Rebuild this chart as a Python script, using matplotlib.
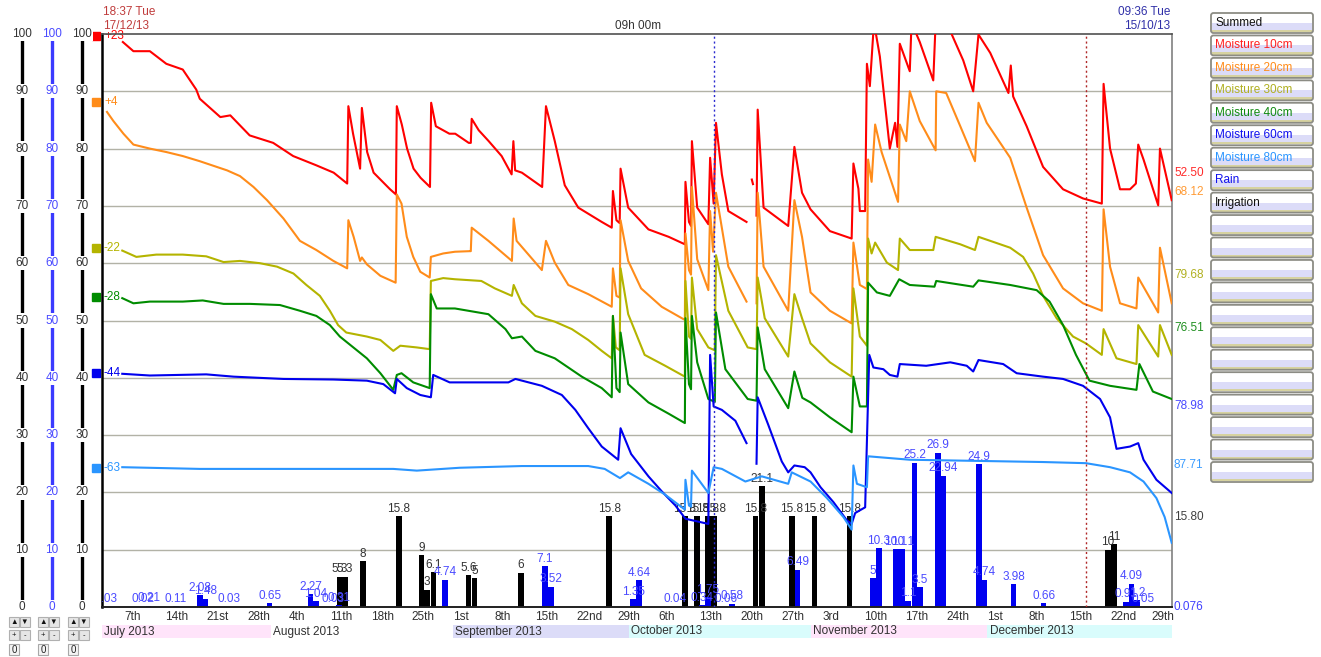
import numpy as np
import matplotlib
matplotlib.use("Agg")
import matplotlib.pyplot as plt
import matplotlib.transforms as mtransforms
from matplotlib.patches import Rectangle, FancyBboxPatch
import pandas as pd
from datetime import datetime

plt.rcParams['font.family'] = ['Liberation Sans', 'DejaVu Sans']

START = datetime(2013, 7, 1)
nan = np.nan

# probe readings as (days since 1 Jul 2013, value)
moist10 = [(5.8, 98.6), (7.6, 97.0), (10.4, 97.0), (13.2, 94.8), (16.0, 93.8), (18.3, 90.3), (18.9, 88.7),
           (22.4, 85.5), (24.1, 85.8), (27.4, 82.3), (31.4, 81.0), (34.8, 78.7), (38.7, 77.1), (41.7, 75.8),
           (44.0, 73.9), (44.2, 87.4), (45.0, 82.6), (46.2, 76.5), (46.5, 87.1), (47.4, 79.4), (48.5, 75.8),
           (51.3, 72.9), (52.3, 72.0), (52.45, 87.4), (53.3, 84.2), (54.2, 80.0), (55.3, 76.5), (56.5, 74.9),
           (58.1, 73.3), (58.3, 88.0), (59.1, 83.9), (61.4, 82.6), (62.4, 82.6), (64.7, 81.0), (65.05, 81.0),
           (65.2, 85.2), (66.4, 83.2), (68.1, 81.3), (70.3, 78.7), (72.0, 75.5), (72.3, 81.3), (72.6, 76.2),
           (73.75, 75.8), (77.2, 73.3), (77.85, 87.4), (79.35, 81.3), (81.05, 73.6), (83.35, 69.7), (87.35, 67.2),
           (89.05, 66.2), (89.25, 72.6), (89.85, 67.5), (90.4, 67.0), (90.55, 76.5), (91.85, 69.7), (95.3, 65.9),
           (98.75, 64.6), (101.5, 63.3), (101.6, 74.2), (102.2, 67.2), (102.55, 66.5), (102.7, 81.3), (103.6, 69.7),
           (105.5, 66.8), (105.8, 78.4), (106.4, 70.4), (106.8, 84.5), (107.8, 75.5), (108.9, 69.1), (112.0, 67.2),
           (112.1, nan), (112.9, 74.6), (113.1, 73.8), (113.2, nan), (113.7, 68.3), (113.9, 86.8), (114.9, 69.7),
           (119.1, 66.5), (120.15, 80.3), (121.45, 72.3), (122.9, 69.4), (126.2, 65.6), (129.9, 64.3), (130.2, 77.4),
           (131.05, 73.0), (131.3, 69.1), (132.2, 69.1), (132.5, 94.8), (133.0, 90.9), (133.7, 102.0), (134.7, 96.1),
           (136.4, 80.0), (137.3, 84.5), (137.7, 80.3), (138.1, 98.3), (139.8, 93.5), (140.1, 102.0), (141.5, 98.6),
           (143.8, 91.9), (144.2, 102.0), (146.7, 100.5), (148.9, 95.4), (150.6, 90.0), (151.5, 99.9), (153.5, 96.7),
           (156.6, 89.7), (157.0, 94.5), (157.4, 89.1), (159.7, 83.9), (162.5, 76.8), (165.9, 72.9), (169.3, 71.3),
           (172.5, 70.4), (172.8, 91.3), (173.9, 80.0), (175.6, 72.9), (177.3, 72.9), (178.3, 73.9), (178.7, 80.7),
           (179.6, 78.1), (182.1, 70.1), (182.4, 80.0), (184.4, 71.0)]

moist20 = [(3.1, 86.4), (4.2, 84.8), (5.9, 82.6), (7.6, 80.7), (10.4, 80.0), (13.2, 79.4), (16.0, 78.7),
           (18.9, 77.8), (23.55, 76.2), (25.75, 75.2), (28.05, 73.3), (30.35, 71.0), (33.15, 67.8), (35.95, 63.9),
           (38.75, 62.3), (41.65, 60.4), (44.0, 59.1), (44.2, 67.5), (45.1, 64.6), (46.2, 60.4), (46.5, 61.0),
           (47.35, 59.8), (49.65, 57.8), (52.25, 56.6), (52.45, 72.0), (53.25, 70.4), (54.15, 64.6), (55.25, 61.1),
           (56.45, 58.5), (58.05, 57.5), (58.25, 61.1), (60.35, 61.7), (62.35, 62.0), (64.85, 62.1), (65.05, 62.1),
           (65.2, 66.2), (68.05, 63.9), (72.05, 60.4), (72.35, 67.8), (72.85, 63.9), (77.15, 58.8), (77.85, 63.9),
           (79.35, 60.1), (81.65, 56.2), (85.05, 54.6), (89.05, 52.4), (89.25, 59.1), (89.85, 54.3), (90.4, 54.0),
           (90.55, 67.5), (91.85, 60.4), (94.05, 55.6), (97.55, 52.4), (101.5, 50.1), (101.6, 65.2), (102.2, 58.8),
           (102.55, 58.0), (102.7, 73.3), (103.6, 60.7), (105.5, 55.3), (105.8, 69.1), (106.3, 62.0), (106.8, 72.3),
           (108.9, 59.4), (112.0, 53.3), (112.1, nan), (113.7, 53.0), (113.9, 72.3), (114.9, 59.4), (119.1, 51.7),
           (120.15, 71.0), (121.45, 64.6), (122.9, 54.9), (126.2, 51.7), (129.9, 49.5), (130.2, 63.6), (131.3, 56.2),
           (132.5, 55.5), (132.7, 78.1), (133.3, 74.2), (133.9, 84.2), (135.0, 79.4), (137.8, 70.7), (138.1, 84.2),
           (139.2, 81.3), (139.8, 90.0), (141.5, 84.8), (144.2, 79.7), (144.3, 90.0), (146.0, 89.7), (148.4, 83.9),
           (150.9, 77.8), (151.5, 88.0), (152.9, 84.5), (156.9, 78.4), (159.7, 69.7), (162.5, 61.4), (165.9, 55.6),
           (169.3, 53.0), (172.5, 51.7), (172.8, 69.4), (173.9, 59.4), (175.6, 53.0), (178.4, 52.1), (178.7, 57.5),
           (182.1, 51.4), (182.4, 62.7), (184.4, 53.0)]

moist30 = [(5.7, 62.2), (8.1, 61.1), (11.5, 61.5), (16.0, 61.5), (20.0, 61.2), (22.95, 60.2), (25.75, 60.4),
           (29.15, 60.0), (32.05, 59.4), (34.85, 58.2), (37.05, 56.2), (39.35, 54.3), (41.05, 51.7), (42.45, 49.2),
           (43.85, 47.9), (47.35, 47.2), (49.65, 46.6), (51.85, 44.7), (53.05, 45.6), (55.85, 45.3), (58.05, 45.0),
           (58.25, 56.9), (60.35, 57.4), (62.35, 57.2), (66.85, 56.9), (69.15, 55.6), (72.05, 54.3), (72.35, 56.2),
           (73.75, 53.0), (76.05, 50.8), (79.35, 49.8), (82.25, 48.5), (85.05, 46.6), (87.35, 44.7), (89.05, 43.4),
           (89.25, 50.8), (89.75, 45.3), (90.4, 44.8), (90.55, 59.1), (91.85, 51.1), (94.65, 44.0), (98.15, 42.1),
           (101.5, 40.2), (101.6, 56.9), (102.2, 47.2), (102.55, 46.8), (102.7, 57.5), (103.6, 48.5), (105.5, 45.3),
           (106.6, 44.8), (106.8, 61.4), (108.9, 51.7), (112.2, 45.3), (113.7, 45.0), (113.9, 57.5), (115.1, 50.4),
           (119.1, 43.7), (120.15, 54.6), (121.45, 50.4), (122.9, 46.0), (126.2, 42.7), (129.9, 40.2), (130.2, 55.6),
           (131.3, 47.2), (132.5, 45.6), (132.7, 64.3), (133.3, 61.7), (133.9, 63.6), (135.9, 60.1), (137.8, 58.8),
           (138.1, 64.3), (139.8, 62.3), (143.8, 62.3), (144.2, 64.6), (148.4, 63.3), (150.9, 62.3), (151.5, 64.6),
           (153.5, 63.9), (156.9, 62.7), (159.1, 61.1), (160.8, 58.2), (162.5, 54.3), (164.8, 50.4), (167.6, 47.2),
           (169.8, 46.0), (172.5, 44.0), (172.8, 48.5), (175.0, 43.4), (178.4, 42.4), (178.7, 49.2), (182.1, 43.7),
           (182.4, 49.2), (184.4, 44.0)]

moist40 = [(5.7, 53.9), (7.6, 53.0), (10.4, 53.3), (16.0, 53.3), (19.4, 53.5), (22.95, 52.9), (27.45, 52.9),
           (32.55, 52.7), (35.95, 51.7), (38.75, 50.8), (41.05, 49.2), (42.75, 47.2), (45.05, 45.3), (47.35, 43.4),
           (49.65, 40.8), (51.85, 37.9), (52.45, 40.5), (53.25, 40.8), (55.25, 39.2), (58.05, 38.2), (58.25, 54.6),
           (59.25, 52.1), (62.35, 52.1), (68.05, 51.1), (70.95, 48.5), (72.05, 46.9), (73.75, 47.2), (76.05, 44.7),
           (79.35, 43.4), (83.95, 40.2), (87.35, 38.2), (89.05, 36.6), (89.25, 50.8), (89.85, 38.2), (90.4, 37.5),
           (90.55, 47.9), (91.85, 38.9), (95.3, 35.7), (98.8, 33.7), (101.5, 32.1), (101.6, 50.4), (102.2, 38.9),
           (102.55, 38.0), (102.7, 50.8), (103.6, 42.7), (105.5, 36.3), (106.6, 35.8), (106.8, 51.4), (108.4, 41.5),
           (112.2, 36.3), (113.7, 36.0), (113.9, 48.8), (115.1, 41.5), (119.1, 34.7), (120.15, 41.1), (121.5, 36.5),
           (122.9, 35.7), (126.2, 33.1), (129.9, 30.5), (130.2, 40.2), (131.3, 35.0), (132.5, 35.0), (132.7, 56.6),
           (134.2, 54.9), (136.4, 54.3), (138.0, 57.2), (139.8, 56.2), (144.0, 55.9), (144.3, 56.9), (150.6, 55.9),
           (151.5, 57.0), (156.9, 56.2), (161.4, 55.3), (163.6, 53.3), (165.9, 49.2), (168.1, 44.0), (170.4, 39.5),
           (173.9, 38.6), (178.4, 37.9), (178.9, 42.4), (181.2, 37.6), (184.4, 36.3)]

moist60 = [(5.7, 40.7), (10.4, 40.4), (20.0, 40.6), (24.65, 40.2), (33.15, 39.8), (41.65, 39.7), (47.35, 39.5),
           (50.15, 38.9), (52.15, 37.3), (52.45, 39.8), (54.15, 38.2), (56.45, 37.0), (58.25, 36.6), (58.65, 40.5),
           (61.45, 39.2), (68.05, 39.2), (71.45, 39.2), (72.65, 39.8), (77.15, 38.6), (80.55, 37.0), (82.85, 34.4),
           (85.05, 31.2), (87.35, 28.0), (90.15, 25.7), (90.55, 31.2), (92.35, 26.7), (95.3, 22.8), (97.55, 20.2),
           (99.9, 17.7), (101.6, 15.4), (105.5, 14.5), (105.8, 44.0), (106.4, 35.0), (107.8, 34.4), (110.1, 32.5),
           (112.0, 28.6), (112.1, nan), (113.7, 25.0), (113.9, 36.6), (115.7, 31.8), (118.0, 25.4), (119.1, 23.5),
           (120.15, 24.7), (121.9, 24.4), (122.9, 23.5), (124.6, 20.9), (126.8, 18.3), (129.1, 15.1), (129.9, 14.5),
           (130.5, 16.4), (132.2, 17.4), (132.7, 36.6), (132.9, 44.0), (133.6, 41.8), (135.3, 41.5), (136.4, 40.5),
           (137.7, 40.2), (138.1, 42.4), (142.6, 42.1), (146.7, 42.7), (149.5, 42.1), (150.6, 41.1), (151.5, 43.1),
           (155.7, 42.4), (158.0, 40.8), (162.5, 40.2), (165.9, 39.8), (169.3, 38.6), (172.2, 36.3), (173.9, 33.1),
           (175.0, 27.6), (177.3, 28.0), (178.7, 28.6), (179.6, 25.7), (181.8, 22.2), (184.4, 19.9)]

moist80 = [(5.7, 24.4), (18.9, 24.1), (35.95, 24.1), (51.85, 24.1), (55.85, 23.8), (63.15, 24.3), (73.75, 24.6),
           (85.05, 24.6), (87.85, 24.1), (90.45, 22.5), (91.85, 23.5), (95.3, 21.5), (98.15, 19.6), (101.5, 17.0),
           (101.6, 22.2), (102.2, 17.7), (102.55, 17.5), (102.7, 23.8), (105.5, 19.9), (106.4, 24.4), (107.8, 24.1),
           (111.8, 21.9), (114.6, 22.8), (119.1, 21.5), (119.7, 23.5), (122.9, 21.9), (125.7, 19.0), (128.5, 15.7),
           (129.9, 13.5), (130.2, 24.7), (130.8, 21.5), (132.5, 20.9), (132.7, 26.3), (139.8, 25.7), (151.2, 25.5),
           (162.5, 25.3), (169.8, 25.1), (173.9, 24.4), (177.3, 23.5), (179.6, 21.9), (181.8, 19.0), (183.2, 15.7),
           (184.4, 11.2)]

irrig_day = [42.7, 43.65, 46.7, 52.8, 56.65, 57.6, 58.7, 64.65, 65.7, 73.6, 88.6, 101.5, 103.6, 105.4, 106.5,
             113.5, 114.6, 119.7, 123.6, 129.55, 173.55, 174.6]
irrig_mm = [5.3, 5.3, 8, 15.8, 9, 3, 6.1, 5.6, 5, 6, 15.8, 15.8, 15.8, 15.8, 15.8,
            15.8, 21.1, 15.8, 15.8, 15.8, 10, 11]

rain_day = [2.9, 9.2, 10.2, 14.85, 18.9, 19.8, 23.9, 30.8, 37.75, 38.65, 41.6, 42.6, 60.7, 77.7, 78.7,
            92.7, 93.7, 99.8, 104.4, 105.4, 108.5, 109.5, 120.7, 133.5, 134.55, 137.45, 138.5, 139.5,
            140.6, 141.5, 144.6, 145.5, 151.55, 152.5, 157.45, 162.6, 176.6, 177.55, 178.5, 179.5]
rain_mm = [0.03, 0.02, 0.21, 0.11, 2.08, 1.48, 0.03, 0.65, 2.27, 1.04, 0.03, 0.31, 4.74, 7.1, 3.52,
           1.35, 4.64, 0.04, 0.34, 1.75, 0.06, 0.58, 6.49, 5, 10.3, 10.1, 10.1, 1.1,
           25.2, 3.5, 26.9, 22.94, 24.9, 4.74, 3.98, 0.66, 0.91, 4.09, 1.2, 0.05]

series_names = ["Moisture 10cm", "Moisture 20cm", "Moisture 30cm", "Moisture 40cm", "Moisture 60cm", "Moisture 80cm"]
series_offsets = ["+23", "+4", "-22", "-28", "-44", "-63"]
offset_levels = [99.6, 88.2, 62.6, 54.1, 40.8, 24.3]
right_texts = ["52.50", "68.12", "79.68", "76.51", "78.98", "87.71", "15.80", "0.076"]
right_levels = [75.7, 72.4, 57.9, 48.7, 35.1, 24.8, 15.7, 0.0]
month_names = ["July 2013", "August 2013", "September 2013", "October 2013", "November 2013", "December 2013"]
month_starts = ["2013-07-01", "2013-08-01", "2013-09-01", "2013-10-01", "2013-11-01", "2013-12-01", "2014-01-01"]
cursor_a = datetime(2013, 10, 15, 9, 36)
cursor_b = datetime(2013, 12, 17, 18, 37)
scale_ticks = list(range(0, 101, 10))

colours = ['#ff0000', '#ff8c1a', '#b4b400', '#008c00', '#0000ee', '#2a95ff']
label_colours = ['#ff2a2a', '#ff9a33', '#b0b020', '#1f8f1f', '#4848ff', '#3a9cff', '#404040', '#4040ff']
band_colours = ['#ffe4fa', None, '#dcdcf8', '#d9fcfc', '#ffe4fa', '#d9fcfc']


def day(t):
    return (pd.Timestamp(t) - pd.Timestamp(START)).total_seconds() / 86400.0


def ordinal(n):
    if 11 <= n % 100 <= 13:
        return f"{n}th"
    return f"{n}" + {1: "st", 2: "nd", 3: "rd"}.get(n % 10, "th")


W, H = 1321, 657
fig = plt.figure(figsize=(W / 100, H / 100), dpi=100)

# pixel-space layer for everything around the plot
ov = fig.add_axes([0, 0, 1, 1])
ov.set_autoscale_on(False)
ov.set_xlim(0, W)
ov.set_ylim(H, 0)
ov.axis('off')

ax = fig.add_axes([102 / W, 50 / H, 1070 / W, 573 / H])
ax.patch.set_visible(False)
x0, x1 = 2.25, 184.45
ax.set_xlim(x0, x1)
ax.set_ylim(0, 100)

px_y = mtransforms.blended_transform_factory(ov.transData, ax.transData)
x_px = mtransforms.blended_transform_factory(ax.transData, ov.transData)

# grid
ax.set_yticks(np.arange(10, 100, 10))
ax.grid(axis='y', color='#b2b2a6', lw=1)
ax.set_axisbelow(True)
ax.tick_params(axis='y', length=0, labelleft=False)
for side, c, lw in [('left', '#000000', 1.8), ('bottom', '#202020', 1.4), ('top', '#505050', 1.2), ('right', '#808080', 1.2)]:
    ax.spines[side].set_color(c)
    ax.spines[side].set_linewidth(lw)

# weekly date labels, left aligned on each Sunday
sundays = pd.date_range("2013-07-07", "2013-12-29", freq="7D")
ax.set_xticks([day(s) for s in sundays], [ordinal(s.day) for s in sundays])
ax.tick_params(axis='x', length=0, pad=3, labelsize=8.5, labelcolor='#303030')
for lbl in ax.get_xticklabels():
    lbl.set_ha('left')

# bars
ax.bar(irrig_day, irrig_mm, width=0.95, color='#000000', zorder=2)
ax.bar(rain_day, rain_mm, width=0.95, color='#0000f0', zorder=2.2)
for d, v in zip(irrig_day, irrig_mm):
    ax.annotate(f"{v:g}", (d, v), xytext=(0, 1), textcoords='offset points', ha='center', va='bottom',
                fontsize=8.5, color='#333333', zorder=3)
for d, v in zip(rain_day, rain_mm):
    ax.annotate(f"{v:g}", (d, v), xytext=(0, 1), textcoords='offset points', ha='center', va='bottom',
                fontsize=8.5, color='#4a4aff', zorder=3, annotation_clip=False, clip_on=True)

# probe lines
for data, c in zip([moist10, moist20, moist30, moist40, moist60, moist80], colours):
    d, v = np.array(data).T
    ax.plot(d, v, color=c, lw=1.5, zorder=4)

# cursors
ax.axvline(day(cursor_a), color='#2a2ad0', lw=1, ls=(0, (1.5, 2)), zorder=5)
ax.axvline(day(cursor_b), color='#b02828', lw=1, ls=(0, (1.5, 2)), zorder=5)
ov.text(103, 12, f"{cursor_b:%H:%M %a}", color='#c03c3c', fontsize=8.5, va='center')
ov.text(103, 26, f"{cursor_b:%d/%m/%y}", color='#c03c3c', fontsize=8.5, va='center')
ov.text(1170, 12, f"{cursor_a:%H:%M %a}", color='#3030a8', fontsize=8.5, va='center', ha='right')
ov.text(1170, 26, f"{cursor_a:%d/%m/%y}", color='#3030a8', fontsize=8.5, va='center', ha='right')
ov.text(638, 26, "09h 00m", color='#333333', fontsize=8.5, va='center', ha='center')

# series offset markers on the left edge
for lvl, txt, c in zip(offset_levels, series_offsets, colours):
    ov.plot([96], [lvl], marker='s', ms=6, color=c, transform=px_y, clip_on=False)
    ov.text(104, lvl, txt, color=c, fontsize=8.5, va='center', transform=px_y)

# readings at the right edge
for lvl, txt, c in zip(right_levels, right_texts, label_colours):
    ov.text(1174, lvl, txt, color=c, fontsize=8.5, va='center', transform=px_y)

# three vertical scales
for sx, lc, tc in [(22, '#000000', '#333333'), (52, '#3a3aff', '#4a4aff'), (82, '#000000', '#333333')]:
    ov.plot([sx, sx], [0, 100], color=lc, lw=2.4, transform=px_y, solid_capstyle='butt')
    for t in scale_ticks:
        ov.text(sx, t, str(t), color=tc, fontsize=8.5, ha='center', va='center', transform=px_y,
                bbox=dict(boxstyle='square,pad=0.1', fc='white', ec='none'))

# small control buttons under the scales
for bx in [9, 38, 68]:
    for i, (row_y, glyphs) in enumerate([(617, ["▲", "▼"]), (630, ["+", "-"])]):
        for j, g in enumerate(glyphs):
            ov.add_patch(Rectangle((bx + j * 10.5, row_y), 10, 10, fc='#e6e6e6', ec='#b0b0b0', lw=0.8))
            ov.text(bx + j * 10.5 + 5, row_y + 5.3, g, fontsize=5.5, ha='center', va='center', color='#111111')
    ov.add_patch(Rectangle((bx, 644), 10, 11, fc='#f4f4f4', ec='#a8a8a8', lw=0.8))
    ov.text(bx + 5, 649.8, "0", fontsize=7, ha='center', va='center', color='#222222')

# month bands below the date labels
edges = [max(day(m), x0) for m in month_starts]
edges[-1] = x1
for name, a, b, fc in zip(month_names, edges[:-1], edges[1:], band_colours):
    if fc:
        ov.add_patch(Rectangle((a, 625), b - a, 13, transform=x_px, fc=fc, ec='none'))
    ov.text(a + 0.4, 631.5, name, transform=x_px, fontsize=8.5, va='center', color='#303030')

# legend buttons
legend_names = ["Summed"] + series_names + ["Rain", "Irrigation"] + [""] * 12
legend_colours = ['#111111', '#ff2020', '#ff8c1a', '#b0b020', '#108a10', '#1010ee', '#2a95ff', '#1010ee', '#111111'] + ['#111111'] * 12
for i, (name, c) in enumerate(zip(legend_names, legend_colours)):
    top = 13 + i * 22.45
    ov.add_patch(Rectangle((1212, top + 10), 100, 7, fc='#dcdcf8', ec='none'))
    ov.add_patch(Rectangle((1212, top + 17), 100, 2.2, fc='#d6d2a0', ec='none'))
    ov.add_patch(FancyBboxPatch((1211, top), 102, 20, boxstyle='round,pad=0,rounding_size=2.5',
                                fc='none', ec='#8c8c84', lw=1.3))
    ov.text(1215, top + 10, name, color=c, fontsize=8.5, va='center')

fig.savefig("out.png", dpi=100, facecolor='white')
